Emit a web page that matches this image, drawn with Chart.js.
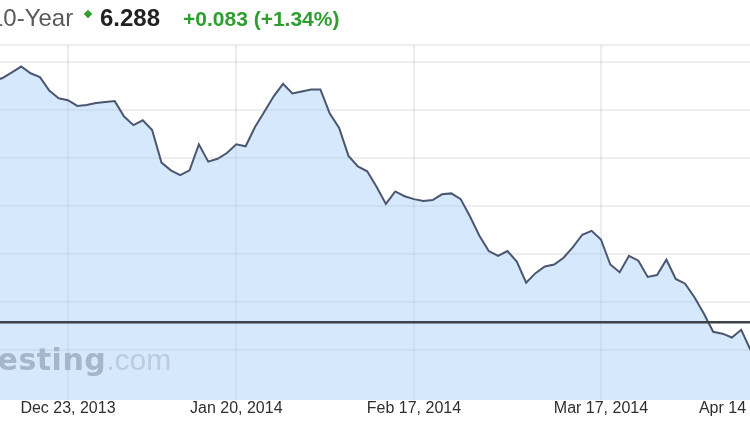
<!DOCTYPE html>
<html lang="en">
<head>
    <meta charset="UTF-8">
    <title>10-Year Bond Yield</title>
    <script src="https://cdn.jsdelivr.net/npm/chart.js"></script>
    <style>
        html, body { margin: 0; padding: 0; background: #fff; }
        #wrap {
            position: relative; width: 750px; height: 422px; overflow: hidden;
            font-family: "Liberation Sans", Arial, sans-serif;
        }
        #yieldChart { position: absolute; left: 0; top: 0; }
        .q { position: absolute; top: 0; line-height: 36px; white-space: nowrap; }
        #name { left: -10px; font-size: 24px; color: #5a5a5a; }
        #arrow {
            position: absolute; left: 85px; top: 11px; width: 6px; height: 6px;
            background: #2f9e2f; transform: rotate(45deg);
        }
        #last { left: 100px; font-size: 24px; font-weight: bold; color: #222; }
        #change { left: 183px; top: 1px; font-size: 21px; font-weight: bold; color: #2f9e2f; }
        /* cropped investing.com watermark */
        #mark {
            position: absolute; left: -56px; top: 345px; line-height: 30px; font-size: 30px;
            white-space: nowrap; pointer-events: none;
        }
        #mark b { font-family: "DejaVu Sans", sans-serif; color: #a6b5c8; letter-spacing: 0.5px; }
        #mark span { color: #bccbdd; }
    </style>
</head>
<body>
<div id="wrap">
    <canvas id="yieldChart" width="750" height="422"></canvas>
    <span class="q" id="name">10-Year</span>
    <div id="arrow"></div>
    <span class="q" id="last">6.288</span>
    <span class="q" id="change">+0.083 (+1.34%)</span>
    <div id="mark"><b>Investing</b><span>.com</span></div>
</div>

<script>
    // session index of first value (Dec 23, 2013 = 0)
    const firstSession = -8;
    const yields = [
        6.530, 6.533, 6.539, 6.545, 6.538, 6.534, 6.520, 6.512,
        6.510, 6.504, 6.505, 6.507, 6.508, 6.509, 6.493, 6.484, 6.489, 6.479,
        6.445, 6.437, 6.432, 6.437, 6.464, 6.446, 6.449, 6.455, 6.464, 6.462,
        6.482, 6.498, 6.514, 6.527, 6.517, 6.519, 6.521, 6.521, 6.496, 6.481,
        6.452, 6.441, 6.436, 6.420, 6.402, 6.415, 6.410, 6.407, 6.405, 6.406,
        6.412, 6.413, 6.407, 6.389, 6.369, 6.353, 6.348, 6.353, 6.342, 6.320,
        6.330, 6.337, 6.339, 6.346, 6.357, 6.370, 6.374, 6.365, 6.339, 6.331,
        6.348, 6.343, 6.326, 6.328, 6.344, 6.324, 6.319, 6.305, 6.288, 6.269,
        6.267, 6.263, 6.271, 6.250
    ];
    const levelLine = 6.279;

    // x axis
    const tickSessions = [0, 18, 37, 57, 70];
    const tickLabels = ['Dec 23, 2013', 'Jan 20, 2014', 'Feb 17, 2014', 'Mar 17, 2014', 'Apr 14'];
    const xMin = -7.27, xMax = 72.94;

    // y axis (labels sit off to the right, outside the crop)
    const yGrid = [6.25, 6.30, 6.35, 6.40, 6.45, 6.50, 6.55, 6.5674];
    const yMin = 6.198, yMax = 6.5674;

    const points = yields.map((v, i) => ({ x: firstSession + i, y: v }));
    const lastSession = firstSession + yields.length - 1;
    const levelPoints = [{ x: firstSession, y: levelLine }, { x: lastSession + 1, y: levelLine }];

    const gridColor = 'rgba(0,0,0,0.065)';

    new Chart(document.getElementById('yieldChart'), {
        type: 'line',
        data: {
            datasets: [
                {
                    data: levelPoints,
                    borderColor: '#3d4249',
                    borderWidth: 2.5,
                    pointRadius: 0,
                    fill: false
                },
                {
                    data: points,
                    borderColor: '#4b5670',
                    borderWidth: 2,
                    pointRadius: 0,
                    tension: 0,
                    fill: 'start',
                    backgroundColor: 'rgba(140,190,246,0.36)'
                }
            ]
        },
        options: {
            responsive: false,
            animation: false,
            maintainAspectRatio: false,
            layout: { padding: { top: 45, bottom: 4, left: 0, right: 0 } },
            plugins: { legend: { display: false }, tooltip: { enabled: false } },
            scales: {
                x: {
                    type: 'linear',
                    min: xMin,
                    max: xMax,
                    afterBuildTicks: (axis) => { axis.ticks = tickSessions.map(v => ({ value: v })); },
                    ticks: {
                        autoSkip: false,
                        maxRotation: 0,
                        padding: 0,
                        color: '#2e2e2e',
                        font: { family: '"Liberation Sans", Arial, sans-serif', size: 16, lineHeight: 1.125 },
                        callback: (value) => {
                            const k = tickSessions.indexOf(value);
                            return k >= 0 ? tickLabels[k] : '';
                        }
                    },
                    grid: {
                        drawTicks: false,
                        lineWidth: 2,
                        color: (ctx) => ctx.index === tickSessions.length - 1 ? 'rgba(0,0,0,0)' : gridColor
                    },
                    border: { display: false }
                },
                y: {
                    min: yMin,
                    max: yMax,
                    afterBuildTicks: (axis) => { axis.ticks = yGrid.map(v => ({ value: v })); },
                    ticks: { display: false },
                    grid: { drawTicks: false, lineWidth: 2, color: gridColor },
                    border: { display: false }
                }
            }
        }
    });
</script>
</body>
</html>
